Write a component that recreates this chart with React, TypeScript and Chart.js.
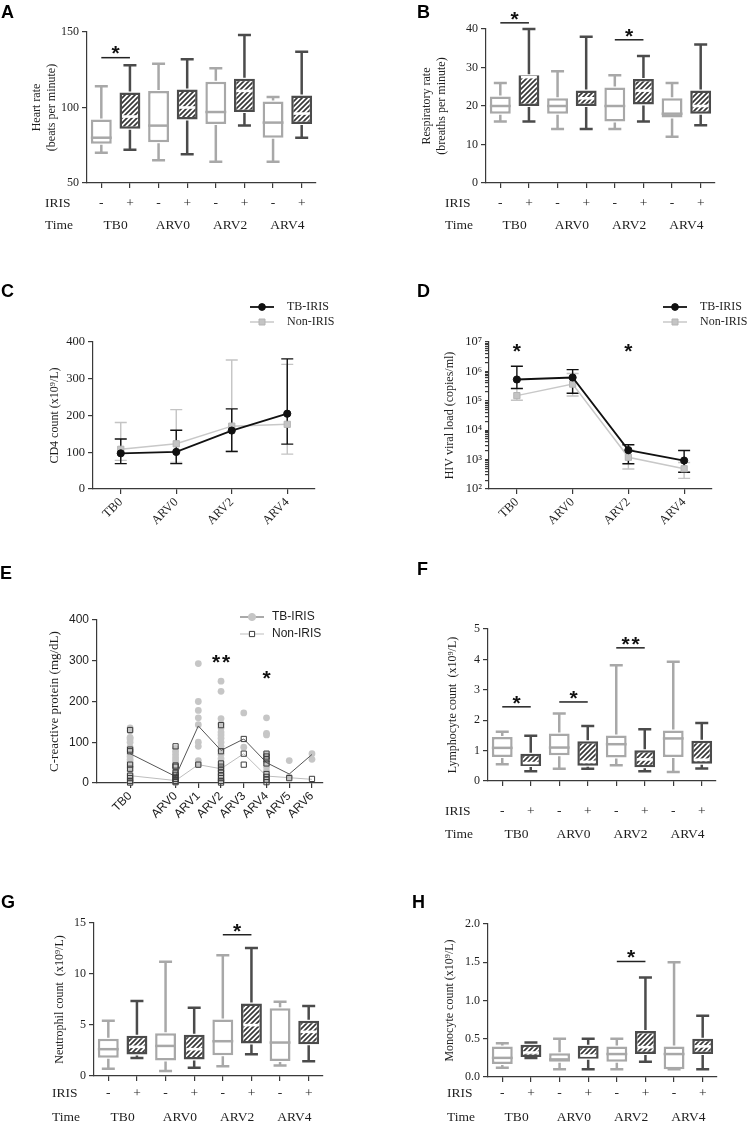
import { useEffect, useRef } from 'react';
import { Chart, registerables } from 'chart.js';

Chart.register(...registerables);

const SERIF = '"Liberation Serif", "Times New Roman", Times, serif';
const SANS = '"Liberation Sans", Arial, Helvetica, sans-serif';
const INK = '#1e1e1e';
const AXIS = '#3a3a3a';
const LIGHT = '#a8a8a8';
const DARK = '#4b4b4b';

// ---------- shared categories ----------
const timePoints = ['TB0', 'ARV0', 'ARV2', 'ARV4'];
const irisSigns = ['-', '+'];

// ---------- A: heart rate (box: min, q1, median, q3, max) ----------
const hrMin = [70, 72, 65, 69, 64, 88, 64, 80];
const hrQ1 = [76, 86, 77, 92, 89, 97, 80, 89];
const hrMedian = [80, 94, 88, 100, 97, 111, 90, 96];
const hrQ3 = [92, 110, 111, 112, 117, 119, 104, 108];
const hrMax = [114, 128, 129, 132, 126, 148, 107, 137];

// ---------- B: respiratory rate ----------
const rrMin = [16, 16, 14, 14, 14, 16, 12, 15];
const rrQ1 = [18, 20, 18, 20, 16, 20.4, 17, 18];
const rrMedian = [20, 27.5, 20, 22, 20, 24, 18, 20];
const rrQ3 = [22.5, 28, 22, 24, 24.8, 27, 22, 24];
const rrMax = [26, 40, 29, 38, 28, 33, 26, 36];

// ---------- C: CD4 count ----------
const cd4IrisMean = [97, 101, 159, 205];
const cd4IrisHigh = [136, 160, 218, 354];
const cd4IrisLow = [69, 69, 102, 122];
const cd4NonMean = [108, 123, 171, 176];
const cd4NonHigh = [181, 216, 351, 339];
const cd4NonLow = [78, 72, 103, 95];

// ---------- D: HIV viral load ----------
const vlIrisMean = [5.3e5, 6.2e5, 2.1e3, 9.3e2];
const vlIrisHigh = [1.5e6, 1.15e6, 3.2e3, 2.05e3];
const vlIrisLow = [2.6e5, 1.8e5, 7.2e2, 3.7e2];
const vlNonMean = [1.5e5, 3.7e5, 1.2e3, 4.9e2];
const vlNonHigh = [2.8e5, 8.5e5, 2.1e3, 8.0e2];
const vlNonLow = [1.05e5, 1.45e5, 4.8e2, 2.3e2];
const vlExponents = [2, 3, 4, 5, 6, 7];

// ---------- E: C-reactive protein ----------
const crpTimeValues = [-2, 0, 1, 2, 3, 4, 5, 6];
const crpTimeLabels = ['TB0', 'ARV0', 'ARV1', 'ARV2', 'ARV3', 'ARV4', 'ARV5', 'ARV6'];
const crpIrisValues = [
  [135, 128, 112, 108, 100, 88, 83, 78, 72, 65, 58, 52, 45, 38, 30, 22, 18, 12, 8, 3],
  [85, 78, 70, 62, 55, 48, 42, 35, 28, 22, 18, 12, 8, 4, 2],
  [293, 200, 178, 160, 143, 100, 90, 55, 45],
  [250, 225, 158, 145, 135, 125, 118, 110, 100, 90, 80, 70, 60, 50, 40, 30, 20, 10, 5],
  [172, 88],
  [160, 122, 118, 70, 60, 50, 40, 30, 20, 10],
  [55, 15],
  [72, 58],
];
const crpNonValues = [
  [130, 82, 78, 45, 35, 18, 12, 5, 1],
  [90, 43, 40, 25, 20, 15, 10, 5, 2],
  [45],
  [142, 78, 48, 40, 32, 25, 18, 12, 5, 1],
  [108, 72, 45],
  [72, 65, 58, 48, 22, 15, 8, 2],
  [12],
  [10],
];
const crpIrisMedian = [72, 16, 140, 80, 108, 50, 22, 70];
const crpNonMedian = [18, 6, 45, 35, 72, 17, 13, 9];

// ---------- F: lymphocytes ----------
const lyMin = [0.55, 0.32, 0.4, 0.4, 0.52, 0.32, 0.3, 0.41];
const lyQ1 = [0.79, 0.49, 0.85, 0.5, 0.77, 0.45, 0.79, 0.57];
const lyMedian = [1.09, 0.59, 1.1, 0.63, 1.21, 0.71, 1.4, 0.7];
const lyQ3 = [1.45, 0.9, 1.56, 1.31, 1.5, 1.01, 1.66, 1.32];
const lyMax = [1.62, 1.49, 2.22, 1.81, 3.81, 1.7, 3.92, 1.91];

// ---------- G: neutrophils ----------
const neMin = [0.72, 1.77, 0.49, 0.82, 0.95, 2.13, 1.02, 1.44];
const neQ1 = [1.8, 2.1, 1.51, 1.61, 2.03, 3.18, 1.48, 3.12];
const neMedian = [2.63, 2.86, 2.95, 2.63, 3.41, 4.99, 3.28, 4.33];
const neQ3 = [3.64, 3.94, 4.2, 4.04, 5.55, 7.12, 6.63, 5.42];
const neMax = [5.42, 7.35, 11.19, 6.7, 11.85, 12.54, 7.29, 6.86];

// ---------- H: monocytes ----------
const moMin = [0.12, 0.25, 0.1, 0.1, 0.1, 0.2, 0.1, 0.1];
const moQ1 = [0.17, 0.26, 0.2, 0.24, 0.2, 0.3, 0.1, 0.3];
const moMedian = [0.25, 0.32, 0.23, 0.28, 0.3, 0.39, 0.3, 0.4];
const moQ3 = [0.4, 0.42, 0.31, 0.41, 0.4, 0.6, 0.4, 0.5];
const moMax = [0.44, 0.45, 0.5, 0.5, 0.5, 1.3, 1.5, 0.8];

// ---------- significance marks ----------
const sigA = [{ from: 0, to: 1, y: 133, text: '*' }];
const sigB = [
  { from: 0, to: 1, y: 41.6, text: '*' },
  { from: 4, to: 5, y: 37.2, text: '*' },
];
const sigF = [
  { from: 0, to: 1, y: 2.44, text: '*' },
  { from: 2, to: 3, y: 2.6, text: '*' },
  { from: 4, to: 5, y: 4.38, text: '**' },
];
const sigG = [{ from: 4, to: 5, y: 13.85, text: '*' }];
const sigH = [{ from: 4, to: 5, y: 1.51, text: '*' }];
const starsD = [
  { x: 0, y: 7.3e6, text: '*' },
  { x: 2, y: 7.3e6, text: '*' },
];
const starsE = [
  { x: 2, y: 309, text: '**' },
  { x: 4, y: 270, text: '*' },
];

const SUP: Record<string, string> = { '0': '⁰', '1': '¹', '2': '²', '3': '³', '4': '⁴', '5': '⁵', '6': '⁶', '7': '⁷', '8': '⁸', '9': '⁹' };

type Rect = { x: number; y: number; w: number; h: number };
type Area = { l: number; t: number; r: number; b: number };

function frame(rect: Rect, area: Area) {
  return {
    padding: { left: 0, top: area.t - rect.y, right: rect.x + rect.w - area.r, bottom: 0 },
    yWidth: area.l - rect.x,
    xHeight: rect.y + rect.h - area.b,
  };
}

const border = () => ({ display: true, color: AXIS, width: 1.2 });
const grid = (len = 5) => ({
  display: true,
  drawOnChartArea: false,
  drawTicks: true,
  tickLength: len,
  color: AXIS,
  lineWidth: 1.2,
  offset: false,
});

function makeHatch(canvas: HTMLCanvasElement) {
  const s = 5;
  const c = document.createElement('canvas');
  c.width = s;
  c.height = s;
  const g = c.getContext('2d')!;
  g.fillStyle = '#ffffff';
  g.fillRect(0, 0, s, s);
  g.strokeStyle = '#383838';
  g.lineWidth = 1.7;
  g.beginPath();
  g.moveTo(-1, s + 1);
  g.lineTo(s + 1, -1);
  g.moveTo(-1, 1);
  g.lineTo(1, -1);
  g.moveTo(s - 1, s + 1);
  g.lineTo(s + 1, s - 1);
  g.stroke();
  return canvas.getContext('2d')!.createPattern(c, 'repeat');
}

function drawLetter(ctx: CanvasRenderingContext2D, rect: Rect, letter: string, x: number, y: number) {
  ctx.save();
  ctx.fillStyle = '#000';
  ctx.font = `bold 18px ${SANS}`;
  ctx.textAlign = 'left';
  ctx.textBaseline = 'alphabetic';
  ctx.fillText(letter, x - rect.x, y - rect.y);
  ctx.restore();
}

function drawStars(ctx: CanvasRenderingContext2D, text: string, cx: number, cy: number) {
  ctx.save();
  ctx.fillStyle = '#111';
  ctx.font = `bold 21px ${SANS}`;
  ctx.textAlign = 'center';
  ctx.textBaseline = 'alphabetic';
  const n = text.length;
  for (let k = 0; k < n; k++) {
    ctx.fillText('*', cx + (k - (n - 1) / 2) * 10, cy + 11.8);
  }
  ctx.restore();
}

type LegendRow = {
  y: number;
  x1: number;
  x2: number;
  line: string;
  lineWidth: number;
  marker: 'circle' | 'rect';
  fill: string;
  stroke: string;
  size: number;
  text: string;
  tx: number;
  font: string;
};

function drawLegend(ctx: CanvasRenderingContext2D, rect: Rect, rows: LegendRow[]) {
  ctx.save();
  rows.forEach((o) => {
    const y = o.y - rect.y;
    ctx.strokeStyle = o.line;
    ctx.lineWidth = o.lineWidth;
    ctx.beginPath();
    ctx.moveTo(o.x1 - rect.x, y);
    ctx.lineTo(o.x2 - rect.x, y);
    ctx.stroke();
    const mx = (o.x1 + o.x2) / 2 - rect.x;
    ctx.fillStyle = o.fill;
    ctx.strokeStyle = o.stroke;
    ctx.lineWidth = 1;
    ctx.beginPath();
    if (o.marker === 'circle') ctx.arc(mx, y, o.size, 0, Math.PI * 2);
    else ctx.rect(mx - o.size, y - o.size, 2 * o.size, 2 * o.size);
    ctx.fill();
    ctx.stroke();
    ctx.fillStyle = INK;
    ctx.font = o.font;
    ctx.textAlign = 'left';
    ctx.textBaseline = 'middle';
    ctx.fillText(o.text, o.tx - rect.x, y);
  });
  ctx.restore();
}

// ---------- box-plot panels ----------
type Sig = { from: number; to: number; y: number; text: string };
type BoxSpec = {
  letter: string;
  letterX: number;
  letterY: number;
  rect: Rect;
  area: Area;
  min: number;
  max: number;
  step: number;
  decimals: number;
  title: string[];
  titleCenter: number;
  lo: number[];
  q1: number[];
  med: number[];
  q3: number[];
  hi: number[];
  sigs: Sig[];
  rowX: number;
  irisY: number;
  timeY: number;
};

function buildBox(canvas: HTMLCanvasElement, spec: BoxSpec) {
  const f = frame(spec.rect, spec.area);
  const hatch = makeHatch(canvas);
  const labels = timePoints.flatMap((t) => irisSigns.map((s) => `${t} ${s}`));
  const signs = timePoints.flatMap(() => irisSigns);
  const plus = labels.map((_, i) => i % 2 === 1);
  const rect = spec.rect;
  const plugin = {
    id: 'boxExtras',
    afterDatasetsDraw(chart: any) {
      const ctx = chart.ctx as CanvasRenderingContext2D;
      const xs = chart.scales.x;
      const ys = chart.scales.y;
      const meta = chart.getDatasetMeta(0);
      ctx.save();
      ctx.lineCap = 'butt';
      spec.q1.forEach((_, i) => {
        const bar = meta.data[i] as any;
        const x = xs.getPixelForValue(i);
        const half = bar.width / 2;
        const cap = 6.5;
        const col = plus[i] ? DARK : LIGHT;
        const yHi = ys.getPixelForValue(spec.hi[i]);
        const yLo = ys.getPixelForValue(spec.lo[i]);
        const yQ1 = ys.getPixelForValue(spec.q1[i]);
        const yQ3 = ys.getPixelForValue(spec.q3[i]);
        const yMed = ys.getPixelForValue(spec.med[i]);
        ctx.strokeStyle = col;
        ctx.lineWidth = 2.5;
        ctx.beginPath();
        ctx.moveTo(x, yQ3 - 1);
        ctx.lineTo(x, yHi);
        ctx.moveTo(x, yQ1 + 1);
        ctx.lineTo(x, yLo);
        ctx.moveTo(x - cap, yHi);
        ctx.lineTo(x + cap, yHi);
        ctx.moveTo(x - cap, yLo);
        ctx.lineTo(x + cap, yLo);
        ctx.stroke();
        ctx.beginPath();
        if (plus[i]) {
          ctx.strokeStyle = '#ffffff';
          ctx.lineWidth = 2.6;
          ctx.moveTo(x - half + 2.5, yMed);
          ctx.lineTo(x + half - 2.5, yMed);
        } else {
          ctx.strokeStyle = LIGHT;
          ctx.lineWidth = 2.5;
          ctx.moveTo(x - half, yMed);
          ctx.lineTo(x + half, yMed);
        }
        ctx.stroke();
      });
      ctx.restore();
    },
    afterDraw(chart: any) {
      const ctx = chart.ctx as CanvasRenderingContext2D;
      const xs = chart.scales.x;
      const ys = chart.scales.y;
      drawLetter(ctx, rect, spec.letter, spec.letterX, spec.letterY);
      ctx.save();
      ctx.fillStyle = INK;
      ctx.font = `13.5px ${SERIF}`;
      ctx.textBaseline = 'middle';
      ctx.textAlign = 'left';
      ctx.fillText('IRIS', spec.rowX - rect.x, spec.irisY - rect.y);
      ctx.fillText('Time', spec.rowX - rect.x, spec.timeY - rect.y);
      ctx.textAlign = 'center';
      signs.forEach((s, i) => {
        ctx.fillText(s, xs.getPixelForValue(i), spec.irisY - rect.y);
      });
      timePoints.forEach((t, k) => {
        const xm = (xs.getPixelForValue(2 * k) + xs.getPixelForValue(2 * k + 1)) / 2;
        ctx.fillText(t, xm, spec.timeY - rect.y);
      });
      ctx.strokeStyle = '#222';
      ctx.lineWidth = 1.5;
      spec.sigs.forEach((s) => {
        const y = ys.getPixelForValue(s.y);
        const xa = xs.getPixelForValue(s.from);
        const xb = xs.getPixelForValue(s.to);
        ctx.beginPath();
        ctx.moveTo(xa, y);
        ctx.lineTo(xb, y);
        ctx.stroke();
        drawStars(ctx, s.text, (xa + xb) / 2, y - 9);
      });
      ctx.restore();
    },
  };
  return new Chart(canvas, {
    type: 'bar',
    data: {
      labels,
      datasets: [
        {
          data: spec.q1.map((v, i) => [v, spec.q3[i]]) as any,
          backgroundColor: plus.map((p) => (p ? hatch : '#ffffff')) as any,
          borderColor: plus.map((p) => (p ? DARK : LIGHT)),
          borderWidth: 2.5,
          borderSkipped: false,
          barPercentage: 0.73,
          categoryPercentage: 1,
          clip: false as any,
        },
      ],
    },
    options: {
      animation: false,
      responsive: false,
      maintainAspectRatio: false,
      events: [],
      layout: { padding: f.padding },
      plugins: { legend: { display: false }, tooltip: { enabled: false } },
      scales: {
        x: {
          type: 'category',
          offset: true,
          border: border(),
          grid: grid(5),
          ticks: { display: false },
          afterFit: (s: any) => {
            s.height = f.xHeight;
          },
        } as any,
        y: {
          type: 'linear',
          min: spec.min,
          max: spec.max,
          border: border(),
          grid: grid(5),
          ticks: {
            stepSize: spec.step,
            color: INK,
            padding: 3,
            font: { family: SERIF, size: 12 },
            callback: (v: any) => Number(v).toFixed(spec.decimals),
          },
          title: {
            display: true,
            text: spec.title,
            color: INK,
            font: { family: SERIF, size: 12, lineHeight: 1.25 },
            padding: { top: spec.titleCenter - rect.x - 7.5, bottom: 0 },
          },
          afterFit: (s: any) => {
            s.width = f.yWidth;
          },
        } as any,
      },
    },
    plugins: [plugin as any],
  });
}

// ---------- line panels (C, D) ----------
type LineSpec = {
  letter: string;
  letterX: number;
  letterY: number;
  rect: Rect;
  area: Area;
  log: boolean;
  title: string;
  titleCenter: number;
  irisMean: number[];
  irisHigh: number[];
  irisLow: number[];
  nonMean: number[];
  nonHigh: number[];
  nonLow: number[];
  stars: { x: number; y: number; text: string }[];
  legendX1: number;
  legendTextX: number;
};

function buildLine(canvas: HTMLCanvasElement, spec: LineSpec) {
  const f = frame(spec.rect, spec.area);
  const rect = spec.rect;
  const logTicks: number[] = [];
  vlExponents.forEach((e, k) => {
    if (k === vlExponents.length - 1) {
      logTicks.push(Math.pow(10, e));
    } else {
      for (let m = 1; m <= 9; m++) logTicks.push(m * Math.pow(10, e));
    }
  });
  const plugin = {
    id: 'lineExtras',
    beforeDatasetsDraw(chart: any) {
      const ctx = chart.ctx as CanvasRenderingContext2D;
      const xs = chart.scales.x;
      const ys = chart.scales.y;
      const series = [
        { hi: spec.nonHigh, lo: spec.nonLow, col: '#c4c4c4' },
        { hi: spec.irisHigh, lo: spec.irisLow, col: '#111111' },
      ];
      ctx.save();
      ctx.lineWidth = 1.4;
      series.forEach((s) => {
        ctx.strokeStyle = s.col;
        s.hi.forEach((h, i) => {
          const x = xs.getPixelForValue(i);
          const y1 = ys.getPixelForValue(h);
          const y2 = ys.getPixelForValue(s.lo[i]);
          ctx.beginPath();
          ctx.moveTo(x, y1);
          ctx.lineTo(x, y2);
          ctx.moveTo(x - 6, y1);
          ctx.lineTo(x + 6, y1);
          ctx.moveTo(x - 6, y2);
          ctx.lineTo(x + 6, y2);
          ctx.stroke();
        });
      });
      ctx.restore();
    },
    afterDraw(chart: any) {
      const ctx = chart.ctx as CanvasRenderingContext2D;
      const xs = chart.scales.x;
      const ys = chart.scales.y;
      drawLetter(ctx, rect, spec.letter, spec.letterX, spec.letterY);
      spec.stars.forEach((s) => drawStars(ctx, s.text, xs.getPixelForValue(s.x), ys.getPixelForValue(s.y)));
      drawLegend(ctx, rect, [
        {
          y: 307, x1: spec.legendX1, x2: spec.legendX1 + 24, line: '#111', lineWidth: 1.8, marker: 'circle',
          fill: '#111', stroke: '#111', size: 3.4, text: 'TB-IRIS', tx: spec.legendTextX, font: `12px ${SERIF}`,
        },
        {
          y: 322, x1: spec.legendX1, x2: spec.legendX1 + 24, line: '#c8c8c8', lineWidth: 1.5, marker: 'rect',
          fill: '#c4c4c4', stroke: '#b4b4b4', size: 3, text: 'Non-IRIS', tx: spec.legendTextX, font: `12px ${SERIF}`,
        },
      ]);
    },
  };
  const yScale: any = spec.log
    ? {
        type: 'logarithmic',
        min: 100,
        max: 1e7,
        afterBuildTicks: (s: any) => {
          s.ticks = logTicks.map((v) => ({ value: v }));
        },
        ticks: {
          autoSkip: false,
          color: INK,
          padding: 3,
          font: { family: SERIF, size: 12.5 },
          callback: (v: any) => {
            const e = Math.log10(Number(v));
            const r = Math.round(e);
            return Math.abs(e - r) < 1e-9 ? '10' + String(r).split('').map((d) => SUP[d]).join('') : '';
          },
        },
      }
    : {
        type: 'linear',
        min: 0,
        max: 400,
        ticks: { stepSize: 100, color: INK, padding: 3, font: { family: SERIF, size: 12.5 } },
      };
  yScale.border = border();
  yScale.grid = grid(spec.log ? 4 : 5);
  yScale.title = {
    display: true,
    text: spec.title,
    color: INK,
    font: { family: SERIF, size: 12, lineHeight: 1.2 },
    padding: { top: spec.titleCenter - rect.x - 7.2, bottom: 0 },
  };
  yScale.afterFit = (s: any) => {
    s.width = f.yWidth;
  };
  return new Chart(canvas, {
    type: 'line',
    data: {
      labels: timePoints,
      datasets: [
        {
          label: 'TB-IRIS',
          data: spec.irisMean,
          borderColor: '#111',
          backgroundColor: '#111',
          borderWidth: 1.8,
          pointStyle: 'circle',
          pointRadius: 3.6,
          pointBackgroundColor: '#111',
          pointBorderColor: '#111',
          pointBorderWidth: 1,
          clip: false as any,
        },
        {
          label: 'Non-IRIS',
          data: spec.nonMean,
          borderColor: '#c8c8c8',
          backgroundColor: '#c4c4c4',
          borderWidth: 1.5,
          pointStyle: 'rect',
          pointRadius: 4.4,
          pointBackgroundColor: '#c4c4c4',
          pointBorderColor: '#b4b4b4',
          pointBorderWidth: 1,
          clip: false as any,
        },
      ],
    },
    options: {
      animation: false,
      responsive: false,
      maintainAspectRatio: false,
      events: [],
      layout: { padding: f.padding },
      plugins: { legend: { display: false }, tooltip: { enabled: false } },
      scales: {
        x: {
          type: 'category',
          offset: true,
          border: border(),
          grid: grid(5),
          ticks: {
            autoSkip: false,
            minRotation: 45,
            maxRotation: 45,
            color: INK,
            padding: 1,
            font: { family: SERIF, size: 12.5 },
          },
          afterFit: (s: any) => {
            s.height = f.xHeight;
          },
        } as any,
        y: yScale,
      },
    },
    plugins: [plugin as any],
  });
}

// ---------- E scatter ----------
function buildCrp(canvas: HTMLCanvasElement, rect: Rect, area: Area) {
  const f = frame(rect, area);
  const irisPts = crpTimeValues.flatMap((t, i) => crpIrisValues[i].map((v) => ({ x: t, y: v })));
  const nonPts = crpTimeValues.flatMap((t, i) => crpNonValues[i].map((v) => ({ x: t, y: v })));
  const irisMed = crpTimeValues.map((t, i) => ({ x: t, y: crpIrisMedian[i] }));
  const nonMed = crpTimeValues.map((t, i) => ({ x: t, y: crpNonMedian[i] }));
  const plugin = {
    id: 'crpExtras',
    afterDraw(chart: any) {
      const ctx = chart.ctx as CanvasRenderingContext2D;
      const xs = chart.scales.x;
      const ys = chart.scales.y;
      drawLetter(ctx, rect, 'E', 0, 579);
      starsE.forEach((s) => drawStars(ctx, s.text, xs.getPixelForValue(s.x), ys.getPixelForValue(s.y)));
      drawLegend(ctx, rect, [
        {
          y: 617, x1: 240, x2: 264, line: '#555', lineWidth: 1, marker: 'circle',
          fill: '#c6c6c6', stroke: '#c6c6c6', size: 3.6, text: 'TB-IRIS', tx: 272, font: `12px ${SANS}`,
        },
        {
          y: 634, x1: 240, x2: 264, line: '#bdbdbd', lineWidth: 1, marker: 'rect',
          fill: '#ffffff', stroke: '#3c3c3c', size: 2.6, text: 'Non-IRIS', tx: 272, font: `12px ${SANS}`,
        },
      ]);
    },
  };
  return new Chart(canvas, {
    type: 'scatter',
    data: {
      datasets: [
        {
          label: 'Non-IRIS',
          data: nonPts,
          pointStyle: 'rect',
          pointRadius: 3.7,
          pointBackgroundColor: 'rgba(255,255,255,0)',
          pointBorderColor: '#3c3c3c',
          pointBorderWidth: 1,
          clip: false as any,
        },
        {
          label: 'TB-IRIS median',
          data: irisMed,
          showLine: true,
          borderColor: '#555555',
          borderWidth: 1,
          pointRadius: 0,
          clip: false as any,
        },
        {
          label: 'Non-IRIS median',
          data: nonMed,
          showLine: true,
          borderColor: '#bdbdbd',
          borderWidth: 1,
          pointRadius: 0,
          clip: false as any,
        },
        {
          label: 'TB-IRIS',
          data: irisPts,
          pointStyle: 'circle',
          pointRadius: 3.4,
          pointBackgroundColor: '#c6c6c6',
          pointBorderColor: '#c6c6c6',
          pointBorderWidth: 0,
          clip: false as any,
        },
      ],
    },
    options: {
      animation: false,
      responsive: false,
      maintainAspectRatio: false,
      events: [],
      layout: { padding: f.padding },
      plugins: { legend: { display: false }, tooltip: { enabled: false } },
      scales: {
        x: {
          type: 'linear',
          min: -3.456,
          max: 6.485,
          border: border(),
          grid: grid(5),
          afterBuildTicks: (s: any) => {
            s.ticks = crpTimeValues.map((v) => ({ value: v }));
          },
          ticks: {
            autoSkip: false,
            minRotation: 45,
            maxRotation: 45,
            color: INK,
            padding: 1,
            font: { family: SANS, size: 12 },
            callback: (_v: any, i: number) => crpTimeLabels[i],
          },
          afterFit: (s: any) => {
            s.height = f.xHeight;
          },
        } as any,
        y: {
          type: 'linear',
          min: 0,
          max: 400,
          border: border(),
          grid: grid(5),
          ticks: { stepSize: 100, color: INK, padding: 3, font: { family: SANS, size: 12 } },
          title: {
            display: true,
            text: 'C-reactive protein (mg/dL)',
            color: INK,
            font: { family: SERIF, size: 13, lineHeight: 1.2 },
            padding: { top: 55 - rect.x - 7.8, bottom: 0 },
          },
          afterFit: (s: any) => {
            s.width = f.yWidth;
          },
        } as any,
      },
    },
    plugins: [plugin as any],
  });
}

// ---------- panel specs ----------
const rectA = { x: 0, y: 0, w: 375, h: 240 };
const rectB = { x: 375, y: 0, w: 375, h: 240 };
const rectC = { x: 0, y: 240, w: 375, h: 320 };
const rectD = { x: 375, y: 240, w: 375, h: 320 };
const rectE = { x: 0, y: 560, w: 375, h: 305 };
const rectF = { x: 375, y: 560, w: 375, h: 305 };
const rectG = { x: 0, y: 870, w: 375, h: 256 };
const rectH = { x: 375, y: 870, w: 375, h: 256 };

const specA: BoxSpec = {
  letter: 'A', letterX: 1, letterY: 18, rect: rectA, area: { l: 87, t: 32, r: 316, b: 183 },
  min: 50, max: 150, step: 50, decimals: 0, title: ['Heart rate', '(beats per minute)'], titleCenter: 37,
  lo: hrMin, q1: hrQ1, med: hrMedian, q3: hrQ3, hi: hrMax, sigs: sigA, rowX: 45, irisY: 203, timeY: 225,
};
const specB: BoxSpec = {
  letter: 'B', letterX: 417, letterY: 18, rect: rectB, area: { l: 486, t: 29, r: 715, b: 183 },
  min: 0, max: 40, step: 10, decimals: 0, title: ['Respiratory rate', '(breaths per minute)'], titleCenter: 427,
  lo: rrMin, q1: rrQ1, med: rrMedian, q3: rrQ3, hi: rrMax, sigs: sigB, rowX: 445, irisY: 203, timeY: 225,
};
const specF: BoxSpec = {
  letter: 'F', letterX: 417, letterY: 575, rect: rectF, area: { l: 488, t: 629, r: 716, b: 781 },
  min: 0, max: 5, step: 1, decimals: 0, title: ['Lymphocyte count  (x10⁹/L)'], titleCenter: 453,
  lo: lyMin, q1: lyQ1, med: lyMedian, q3: lyQ3, hi: lyMax, sigs: sigF, rowX: 445, irisY: 811, timeY: 834,
};
const specG: BoxSpec = {
  letter: 'G', letterX: 1, letterY: 908, rect: rectG, area: { l: 94, t: 923, r: 323, b: 1076 },
  min: 0, max: 15, step: 5, decimals: 0, title: ['Neutrophil count  (x10⁹/L)'], titleCenter: 60,
  lo: neMin, q1: neQ1, med: neMedian, q3: neQ3, hi: neMax, sigs: sigG, rowX: 52, irisY: 1093, timeY: 1117,
};
const specH: BoxSpec = {
  letter: 'H', letterX: 412, letterY: 908, rect: rectH, area: { l: 488, t: 924, r: 717, b: 1077 },
  min: 0, max: 2, step: 0.5, decimals: 1, title: ['Monocyte count (x10⁹/L)'], titleCenter: 450,
  lo: moMin, q1: moQ1, med: moMedian, q3: moQ3, hi: moMax, sigs: sigH, rowX: 447, irisY: 1093, timeY: 1117,
};
const specC: LineSpec = {
  letter: 'C', letterX: 1, letterY: 297, rect: rectC, area: { l: 93, t: 342, r: 315, b: 489 }, log: false,
  title: 'CD4 count (x10⁹/L)', titleCenter: 55,
  irisMean: cd4IrisMean, irisHigh: cd4IrisHigh, irisLow: cd4IrisLow,
  nonMean: cd4NonMean, nonHigh: cd4NonHigh, nonLow: cd4NonLow, stars: [], legendX1: 250, legendTextX: 287,
};
const specD: LineSpec = {
  letter: 'D', letterX: 417, letterY: 297, rect: rectD, area: { l: 489, t: 342, r: 712, b: 489 }, log: true,
  title: 'HIV viral load (copies/ml)', titleCenter: 450,
  irisMean: vlIrisMean, irisHigh: vlIrisHigh, irisLow: vlIrisLow,
  nonMean: vlNonMean, nonHigh: vlNonHigh, nonLow: vlNonLow, stars: starsD, legendX1: 663, legendTextX: 700,
};

function ChartPanel({ rect, build }: { rect: Rect; build: (c: HTMLCanvasElement) => Chart }) {
  const ref = useRef<HTMLCanvasElement>(null);
  useEffect(() => {
    const chart = build(ref.current!);
    return () => chart.destroy();
  }, []);
  return (
    <canvas
      ref={ref}
      width={rect.w}
      height={rect.h}
      style={{ position: 'absolute', left: rect.x, top: rect.y, width: rect.w, height: rect.h, display: 'block' }}
    />
  );
}

export default function App() {
  return (
    <div style={{ position: 'absolute', left: 0, top: 0, width: 750, height: 1126, background: '#ffffff', overflow: 'hidden' }}>
      <ChartPanel rect={rectA} build={(c) => buildBox(c, specA)} />
      <ChartPanel rect={rectB} build={(c) => buildBox(c, specB)} />
      <ChartPanel rect={rectC} build={(c) => buildLine(c, specC)} />
      <ChartPanel rect={rectD} build={(c) => buildLine(c, specD)} />
      <ChartPanel rect={rectE} build={(c) => buildCrp(c, rectE, { l: 97, t: 620, r: 323, b: 783 })} />
      <ChartPanel rect={rectF} build={(c) => buildBox(c, specF)} />
      <ChartPanel rect={rectG} build={(c) => buildBox(c, specG)} />
      <ChartPanel rect={rectH} build={(c) => buildBox(c, specH)} />
    </div>
  );
}
